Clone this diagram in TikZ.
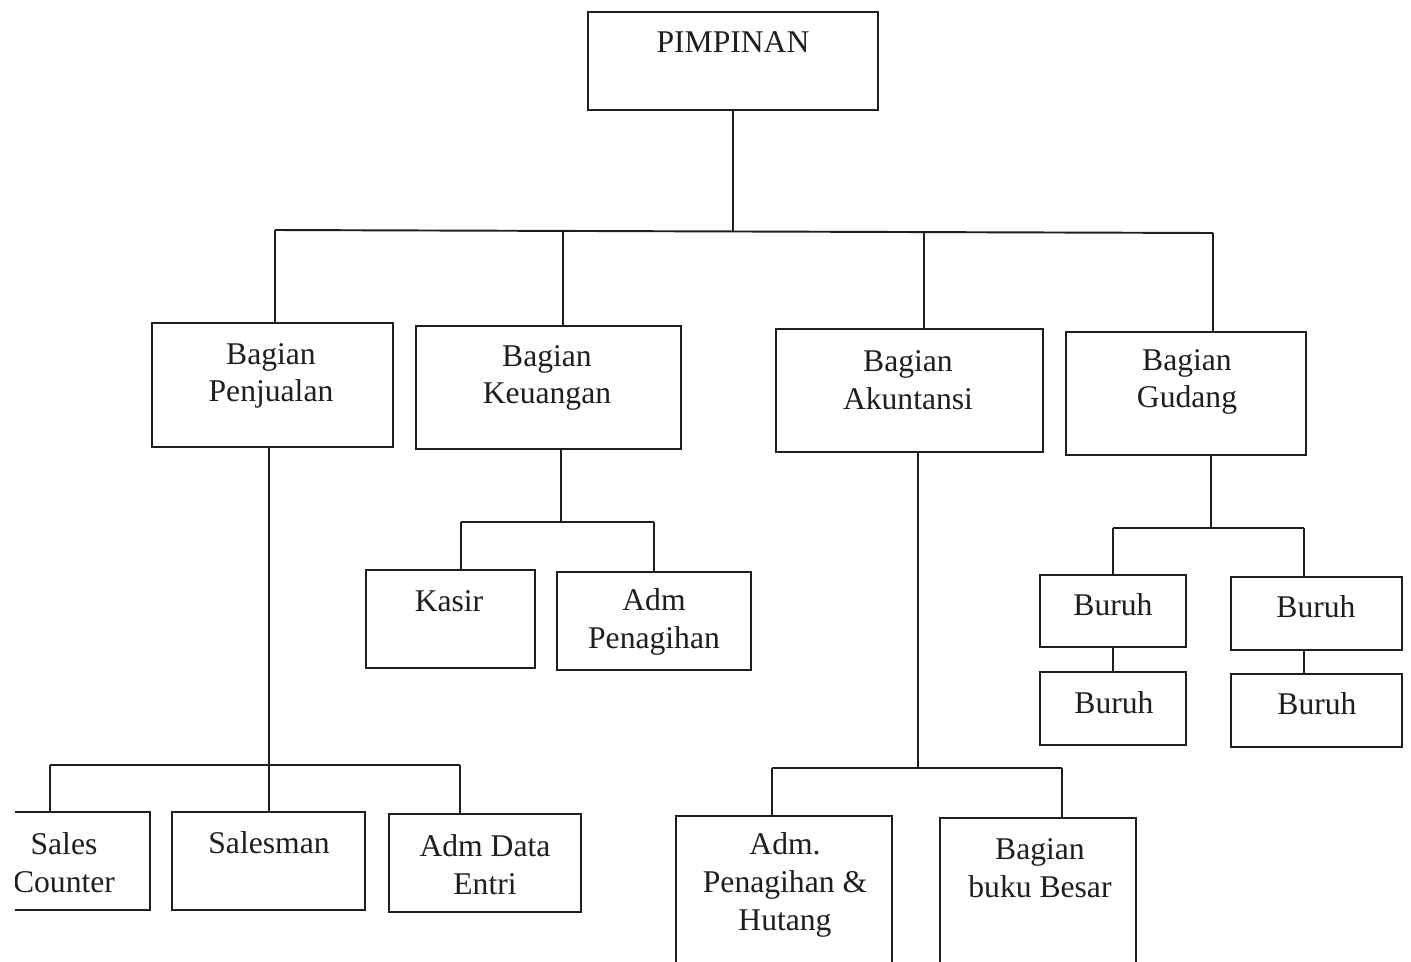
\documentclass[tikz,border=0pt]{standalone}
\usepackage{fontspec}
\setmainfont{Liberation Serif}
\usetikzlibrary{calc}
\definecolor{ink}{RGB}{30,30,30}
\tikzset{
  box/.style={draw=ink, line width=1.1pt, rectangle, inner sep=0pt},
  conn/.style={draw=ink, line width=1.1pt},
  txt/.style={text=ink, align=center, inner sep=0pt, font=\fontsize{18}{21.5}\selectfont},
}
\begin{document}
\begin{tikzpicture}[x=0.02cm, y=-0.02cm]
\useasboundingbox (0,0) rectangle (1411,961);
\fill[white] (0,0) rectangle (1411,961);
\clip (15,0) rectangle (1411,961);
% boxes
\node[box, minimum width=5.80cm, minimum height=1.96cm] (pim) at (733,61) {};
\node[box, minimum width=4.82cm, minimum height=2.48cm] (pen) at (272.5,385) {};
\node[box, minimum width=5.30cm, minimum height=2.46cm] (keu) at (548.5,387.5) {};
\node[box, minimum width=5.34cm, minimum height=2.46cm] (aku) at (909.5,390.5) {};
\node[box, minimum width=4.80cm, minimum height=2.46cm] (gud) at (1186,393.5) {};
\node[box, minimum width=3.38cm, minimum height=1.96cm] (kas) at (450.5,619) {};
\node[box, minimum width=3.88cm, minimum height=1.96cm] (admp) at (654,621) {};
\node[box, minimum width=2.92cm, minimum height=1.44cm] (b1) at (1113,611) {};
\node[box, minimum width=3.42cm, minimum height=1.46cm] (b2) at (1316.5,613.5) {};
\node[box, minimum width=2.92cm, minimum height=1.46cm] (b3) at (1113,708.5) {};
\node[box, minimum width=3.42cm, minimum height=1.46cm] (b4) at (1316.5,710.5) {};
\node[box, minimum width=3.80cm, minimum height=1.96cm] (sc) at (55,861) {};
\node[box, minimum width=3.86cm, minimum height=1.96cm] (sal) at (268.5,861) {};
\node[box, minimum width=3.84cm, minimum height=1.96cm] (ade) at (485,863) {};
\node[box, minimum width=4.32cm, minimum height=3.68cm] (aph) at (784,908) {};
\node[box, minimum width=3.92cm, minimum height=3.64cm] (bbb) at (1038,909) {};
% texts
\node[txt] (tpim) at (733,42) {PIMPINAN};
\node[txt] (tpen) at (271,376) {Bagian\\Penjualan};
\node[txt] (tkeu) at (547,378) {Bagian\\Keuangan};
\node[txt] (taku) at (908,380) {Bagian\\Akuntansi};
\node[txt] (tgud) at (1187,382) {Bagian\\Gudang};
\node[txt] (tkas) at (449,601) {Kasir};
\node[txt] (tadmp) at (654,622) {Adm\\Penagihan};
\node[txt] (tb1) at (1113,605) {Buruh};
\node[txt] (tb2) at (1316,607) {Buruh};
\node[txt] (tb3) at (1114,703) {Buruh};
\node[txt] (tb4) at (1317,704) {Buruh};
\node[txt] (tsc) at (64,863) {Sales\\Counter};
\node[txt] (tsal) at (269,843) {Salesman};
\node[txt] (tade) at (485,865) {Adm Data\\Entri};
\node[txt] (taph) at (785,885) {Adm.\\Penagihan \&\\Hutang};
\node[txt] (tbbb) at (1040,868) {Bagian\\buku Besar};
% bus coordinates
\coordinate (bP) at (275,230);
\coordinate (bK) at (563,231);
\coordinate (bM) at (733,231);
\coordinate (bA) at (924,232);
\coordinate (bG) at (1213,233);
\coordinate (jP) at (269,765);
\coordinate (jPL) at (50,765);
\coordinate (jPR) at (460,765);
\coordinate (jK) at (561,522);
\coordinate (jKL) at (461,522);
\coordinate (jKR) at (654,522);
\coordinate (jA) at (918,768);
\coordinate (jAL) at (772,768);
\coordinate (jAR) at (1062,768);
\coordinate (jG) at (1211,528);
\coordinate (jGL) at (1113,528);
\coordinate (jGR) at (1304,528);
% connectors
\draw[conn] (pim.south) -- (bM);
\draw[conn] (bP) -- (bG);
\draw[conn] (bP) -- (bP |- pen.north);
\draw[conn] (bK) -- (bK |- keu.north);
\draw[conn] (bA) -- (bA |- aku.north);
\draw[conn] (bG) -- (bG |- gud.north);
% penjualan
\draw[conn] (jP |- pen.south) -- (jP);
\draw[conn] (jPL) -- (jPR);
\draw[conn] (jPL) -- (jPL |- sc.north);
\draw[conn] (jP) -- (jP |- sal.north);
\draw[conn] (jPR) -- (jPR |- ade.north);
% keuangan
\draw[conn] (jK |- keu.south) -- (jK);
\draw[conn] (jKL) -- (jKR);
\draw[conn] (jKL) -- (jKL |- kas.north);
\draw[conn] (jKR) -- (jKR |- admp.north);
% akuntansi
\draw[conn] (jA |- aku.south) -- (jA);
\draw[conn] (jAL) -- (jAR);
\draw[conn] (jAL) -- (jAL |- aph.north);
\draw[conn] (jAR) -- (jAR |- bbb.north);
% gudang
\draw[conn] (jG |- gud.south) -- (jG);
\draw[conn] (jGL) -- (jGR);
\draw[conn] (jGL) -- (jGL |- b1.north);
\draw[conn] (jGR) -- (jGR |- b2.north);
\draw[conn] (b1.south) -- (b3.north);
\draw[conn] (jGR |- b2.south) -- (jGR |- b4.north);
\end{tikzpicture}
\end{document}
